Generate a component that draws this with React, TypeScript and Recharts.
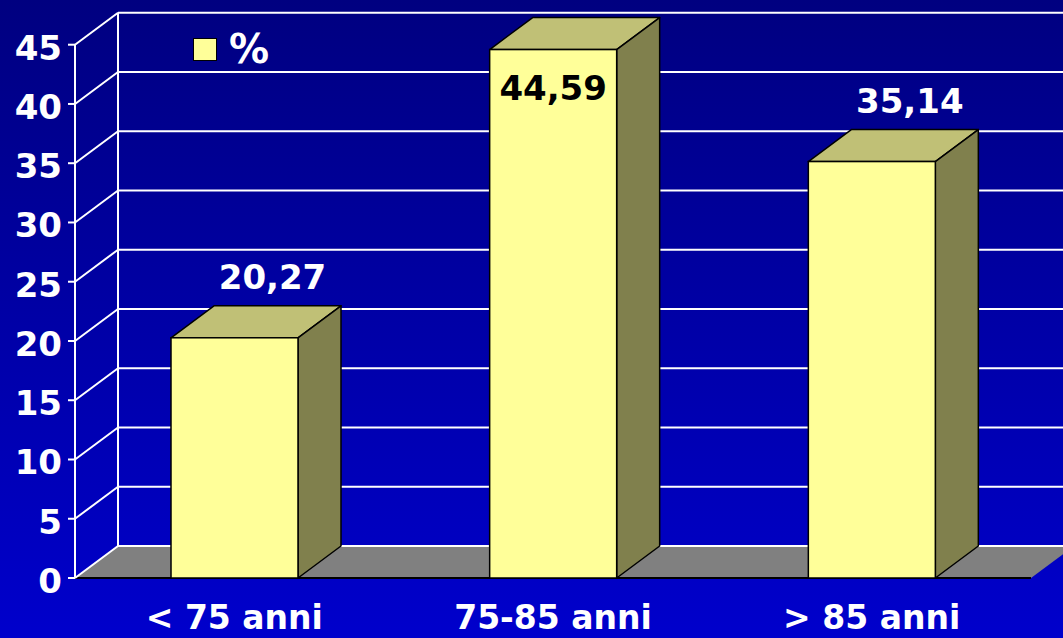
import {
  Bar,
  BarChart,
  CartesianGrid,
  LabelList,
  Legend,
  XAxis,
  YAxis,
} from "recharts";

const categories = ["< 75 anni", "75-85 anni", "> 85 anni"];
const percent = [20.27, 44.59, 35.14];
const yTicks = [0, 5, 10, 15, 20, 25, 30, 35, 40, 45];

const data = categories.map((name, i) => ({ name, value: percent[i] }));

// depth offset of the 3D look
const DX = 43;
const DY = 32;
const W = 1063;
const H = 638;
const FONT = "'DejaVu Sans', Verdana, sans-serif";

const fmt = (v: number) => v.toFixed(2).replace(".", ",");

const Box3D = (props: any) => {
  const { x, y, width, height } = props;
  if (!width || height == null) return null;
  return (
    <g>
      <polygon
        points={`${x},${y} ${x + DX},${y - DY} ${x + width + DX},${y - DY} ${x + width},${y}`}
        fill="#C0C076"
        stroke="#000"
        strokeWidth={1.5}
        strokeLinejoin="round"
      />
      <polygon
        points={`${x + width},${y} ${x + width + DX},${y - DY} ${x + width + DX},${y + height - DY} ${x + width},${y + height}`}
        fill="#80804D"
        stroke="#000"
        strokeWidth={1.5}
        strokeLinejoin="round"
      />
      <rect x={x} y={y} width={width} height={height} fill="#FFFF99" stroke="#000" strokeWidth={1.5} />
    </g>
  );
};

const BackLine = (props: any) => {
  const { x1, y1, x2, index } = props;
  const top = props.y;
  const bottom = props.y + props.height;
  const bx = x1 + DX;
  const by = y1 - DY;
  const isFloor = Math.abs(y1 - bottom) < 1;
  const isTop = Math.abs(y1 - top) < 1;
  return (
    <g key={`back-${index}`}>
      {isFloor && (
        <polygon
          points={`${x1},${y1} ${bx},${by} ${x2 + DX},${by} ${x2},${y1}`}
          fill="#808080"
        />
      )}
      {isFloor && <line x1={x1} y1={y1} x2={x2} y2={y1} stroke="#000" strokeWidth={2} />}
      <line x1={x1} y1={y1} x2={bx} y2={by} stroke="#fff" strokeWidth={2} />
      <line x1={bx} y1={by} x2={W} y2={by} stroke="#fff" strokeWidth={2} />
      {isTop && <line x1={bx} y1={by} x2={bx} y2={by + props.height} stroke="#fff" strokeWidth={2} />}
    </g>
  );
};

const YTick = (props: any) => {
  const { x, y, payload } = props;
  return (
    <text x={x - 6} y={y + 15} textAnchor="end" fill="#fff" fontFamily={FONT} fontWeight="bold" fontSize={34}>
      {payload.value}
    </text>
  );
};

const XTick = (props: any) => {
  const { x, y, payload } = props;
  return (
    <text x={x} y={y + 51} textAnchor="middle" fill="#fff" fontFamily={FONT} fontWeight="bold" fontSize={33}>
      {payload.value}
    </text>
  );
};

const ValueLabel = (props: any) => {
  const { x, y, width, value, index } = props;
  const inside = index === 1;
  return (
    <text
      x={inside ? x + width / 2 : x + width / 2 + 38}
      y={inside ? y + 50 : y - 49}
      textAnchor="middle"
      fill={inside ? "#000" : "#fff"}
      fontFamily={FONT}
      fontWeight="bold"
      fontSize={34}
    >
      {fmt(value)}
    </text>
  );
};

const LegendBox = () => (
  <div style={{ display: "flex", alignItems: "center", fontFamily: FONT }}>
    <div
      style={{
        width: 22,
        height: 21,
        background: "#FFFF99",
        border: "1.5px solid #000",
        marginRight: 12,
      }}
    />
    <span style={{ color: "#fff", fontWeight: "bold", fontSize: 40, lineHeight: "40px" }}>%</span>
  </div>
);

export default function App() {
  return (
    <div
      style={{
        position: "absolute",
        left: 0,
        top: 0,
        width: W,
        height: H,
        background: "linear-gradient(#000080, #0000CC)",
      }}
    >
      <BarChart width={W} height={H} data={data} margin={{ top: 44.7, right: 32, bottom: 0, left: 0 }}>
        <CartesianGrid vertical={false} horizontal={(p: any) => <BackLine {...p} />} />
        <XAxis
          dataKey="name"
          axisLine={false}
          tickLine={false}
          tickSize={0}
          tickMargin={0}
          height={60}
          tick={<XTick />}
        />
        <YAxis
          width={75}
          domain={[0, 45]}
          ticks={yTicks}
          interval={0}
          axisLine={{ stroke: "#fff", strokeWidth: 2 }}
          tickLine={{ stroke: "#fff", strokeWidth: 2 }}
          tickSize={7}
          tickMargin={0}
          tick={<YTick />}
        />
        <Legend
          layout="horizontal"
          verticalAlign="middle"
          align="center"
          content={<LegendBox />}
          wrapperStyle={{ top: 29, left: 193, width: 100, height: 40 }}
        />
        <Bar dataKey="value" barSize={127} shape={<Box3D />} isAnimationActive={false}>
          <LabelList dataKey="value" content={<ValueLabel />} />
        </Bar>
      </BarChart>
    </div>
  );
}
